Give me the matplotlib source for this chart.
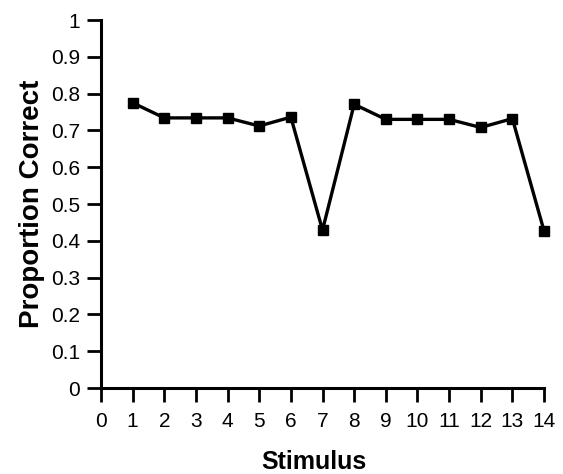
import matplotlib
matplotlib.use("Agg")
import matplotlib.pyplot as plt

stimulus = [1, 2, 3, 4, 5, 6, 7, 8, 9, 10, 11, 12, 13, 14]
proportion_correct = [0.775, 0.734, 0.734, 0.734, 0.712, 0.736, 0.429,
                      0.771, 0.730, 0.730, 0.730, 0.708, 0.732, 0.427]
x_ticks = list(range(0, 15))
y_ticks = [0, 0.1, 0.2, 0.3, 0.4, 0.5, 0.6, 0.7, 0.8, 0.9, 1]

plt.rcParams["font.family"] = ["Liberation Sans", "DejaVu Sans"]

fig = plt.figure(figsize=(5.63, 4.74), dpi=100)
ax = fig.add_axes([0.1794, 0.1814, 0.7869, 0.7764])

ax.plot(stimulus, proportion_correct, color="black", lw=2.4,
        marker="s", ms=7.5, clip_on=False)

ax.set_xlim(0, 14)
ax.set_ylim(0, 1)
ax.set_xticks(x_ticks)
ax.set_yticks(y_ticks)
ax.set_yticklabels([f"{v:g}" for v in y_ticks])
for s in ("top", "right"):
    ax.spines[s].set_visible(False)
for s in ("left", "bottom"):
    ax.spines[s].set_linewidth(2.2)
ax.tick_params(axis="both", width=2, labelsize=15, color="black")
ax.tick_params(axis="x", length=10, pad=7)
ax.tick_params(axis="y", length=10, pad=5)

ax.set_xlabel("Stimulus", fontsize=18, fontweight="bold", va="center")
ax.xaxis.set_label_coords(0.48, -0.2)
ax.set_ylabel("Proportion Correct", fontsize=20, fontweight="bold", va="center")
ax.yaxis.set_label_coords(-0.156, 0.5)

fig.savefig("out.png", dpi=100)
